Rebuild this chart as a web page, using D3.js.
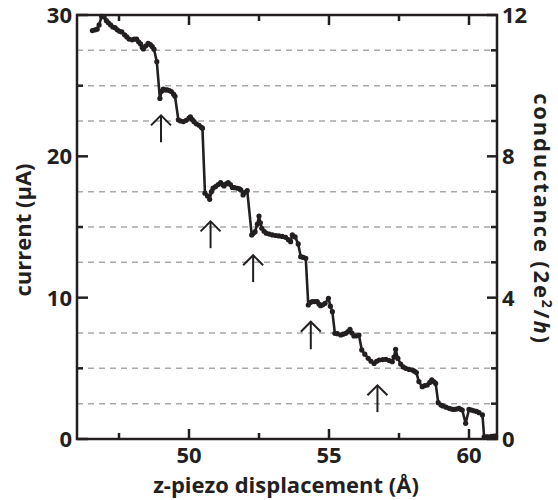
<!DOCTYPE html>
<html>
<head>
<meta charset="utf-8">
<script src="https://cdn.jsdelivr.net/npm/d3@7"></script>
<style>
  body { margin: 0; background: #fff; }
  text { font-family: "Open Sans", Lato, sans-serif; font-weight: bold; fill: #231f20; }
</style>
</head>
<body>
<svg width="558" height="500"></svg>
<script>
// displacement (Å) and current (μA)
const displacement = [
  46.55, 46.65, 46.72, 46.79, 46.88, 46.97, 47.05, 47.12, 47.2, 47.28, 47.36, 47.44, 47.52, 47.6, 47.7, 47.78,
  47.86, 47.97, 48.05, 48.13, 48.2, 48.27, 48.33, 48.37, 48.45, 48.54, 48.62, 48.69, 48.75, 48.85, 48.96, 49.02,
  49.08, 49.15, 49.22, 49.3, 49.37, 49.45, 49.5, 49.62, 49.7, 49.8, 49.9, 50.0, 50.05, 50.12, 50.18, 50.26,
  50.36, 50.44, 50.48, 50.57, 50.66, 50.74, 50.8, 50.86, 50.95, 51.04, 51.13, 51.2, 51.25, 51.33, 51.4, 51.48,
  51.55, 51.63, 51.73, 51.8, 51.85, 51.93, 52.0, 52.08, 52.24, 52.3, 52.36, 52.44, 52.5, 52.55, 52.6, 52.68,
  52.76, 52.87, 52.98, 53.1, 53.21, 53.33, 53.45, 53.55, 53.63, 53.69, 53.79, 53.9, 53.99, 54.08, 54.17, 54.26,
  54.33, 54.4, 54.49, 54.58, 54.64, 54.7, 54.78, 54.86, 54.98, 55.05, 55.12, 55.21, 55.3, 55.42, 55.5, 55.6,
  55.68, 55.75, 55.82, 55.89, 55.98, 56.07, 56.17, 56.28, 56.4, 56.5, 56.61, 56.7, 56.79, 56.92, 57.03, 57.15,
  57.26, 57.32, 57.38, 57.46, 57.56, 57.65, 57.74, 57.86, 57.98, 58.05, 58.12, 58.21, 58.33, 58.42, 58.51, 58.6,
  58.67, 58.75, 58.81, 58.9, 59.0, 59.07, 59.18, 59.29, 59.38, 59.46, 59.55, 59.64, 59.7, 59.76, 59.88, 60.0,
  60.09, 60.18, 60.27, 60.36, 60.48, 60.54, 60.62, 60.69, 60.8, 60.89, 60.95
];
const current = [
  28.9, 28.95, 29.0, 29.3, 29.9, 29.85, 29.6, 29.45, 29.3, 29.15, 29.1, 28.95, 28.85, 28.8, 28.6, 28.45,
  28.3, 28.24, 28.3, 28.29, 28.1, 27.95, 27.7, 27.6, 27.8, 28.0, 27.9, 27.76, 27.58, 26.7, 24.1, 24.6,
  24.75, 24.7, 24.7, 24.65, 24.58, 24.4, 24.25, 22.58, 22.5, 22.46, 22.55, 22.7, 22.8, 22.6, 22.45, 22.3,
  22.2, 22.05, 21.99, 17.39, 17.2, 16.96, 17.5, 17.75, 17.86, 18.0, 18.14, 18.0, 17.9, 18.05, 18.14, 18.0,
  17.8, 17.78, 17.74, 17.7, 17.62, 17.27, 17.45, 17.57, 14.44, 14.55, 14.67, 15.2, 15.78, 15.3, 14.91, 14.7,
  14.56, 14.5, 14.44, 14.4, 14.37, 14.33, 14.27, 14.1, 13.96, 14.44, 14.3, 13.8, 12.9, 12.85, 12.79, 9.48,
  9.65, 9.72, 9.72, 9.72, 9.55, 9.43, 9.5, 9.6, 9.95, 9.4, 9.01, 7.48, 7.45, 7.36, 7.42, 7.48,
  7.6, 7.76, 7.5, 7.29, 7.3, 7.36, 6.3, 6.0, 5.71, 5.5, 5.35, 5.5, 5.59, 5.62, 5.64, 5.55,
  5.47, 5.8, 6.35, 5.7, 5.3, 5.1, 5.0, 4.92, 4.88, 4.8, 4.7, 4.06, 3.7, 3.78, 3.82, 4.0,
  4.18, 4.05, 3.93, 2.57, 2.4, 2.34, 2.25, 2.17, 2.12, 2.09, 2.12, 2.17, 2.1, 2.05, 1.11, 2.09,
  2.05, 2.0, 1.95, 1.86, 1.7, 0.16, 0.15, 0.16, 0.18, 0.2, 0.2
];

// arrows: x position, tip and tail in current units
const arrowX = [49.0, 50.77, 52.29, 54.35, 56.73];
const arrowTip = [22.9, 15.4, 13.0, 8.3, 3.8];
const arrowTail = [21.0, 13.5, 11.1, 6.35, 1.9];

const xTicks = [50, 55, 60];
const xMinor = [47.5, 52.5, 57.5];
const yTicks = [0, 10, 20, 30];
const yMinor = [5, 15, 25];
const gTicks = [0, 4, 8, 12];
const gMinor = [1, 2, 3, 5, 6, 7, 9, 10, 11];

const svg = d3.select("svg");
const width = +svg.attr("width");
const height = +svg.attr("height");
const margin = { top: 15, right: 61, bottom: 61, left: 77 };
const ink = "#231f20";

const x = d3.scaleLinear().domain([46, 61]).range([margin.left, width - margin.right]);
const y = d3.scaleLinear().domain([0, 30]).range([height - margin.bottom, margin.top]);
const g = d3.scaleLinear().domain([0, 12]).range([height - margin.bottom, margin.top]);

// dashed conductance levels
svg.append("g")
  .selectAll("line")
  .data(gMinor)
  .join("line")
  .attr("x1", x(46)).attr("x2", x(61))
  .attr("y1", d => g(d)).attr("y2", d => g(d))
  .attr("stroke", "#a7a9ac")
  .attr("stroke-width", 1.5)
  .attr("stroke-dasharray", "6,5");

// ticks, drawn inward
function ticks(vals, len, orient) {
  const grp = svg.append("g").attr("stroke", ink).attr("stroke-width", 2.5);
  vals.forEach(v => {
    if (orient === "bottom") grp.append("line").attr("x1", x(v)).attr("x2", x(v)).attr("y1", y(0)).attr("y2", y(0) - len);
    if (orient === "top") grp.append("line").attr("x1", x(v)).attr("x2", x(v)).attr("y1", y(30)).attr("y2", y(30) + len);
    if (orient === "left") grp.append("line").attr("x1", x(46)).attr("x2", x(46) + len).attr("y1", y(v)).attr("y2", y(v));
    if (orient === "right") grp.append("line").attr("x1", x(61)).attr("x2", x(61) - len).attr("y1", g(v)).attr("y2", g(v));
  });
}
ticks(xTicks, 10, "bottom");
ticks(xMinor, 6, "bottom");
ticks(xTicks, 10, "top");
ticks(xMinor, 6, "top");
ticks(yTicks, 11, "left");
ticks(yMinor, 6, "left");
ticks(gTicks, 10, "right");
ticks(gMinor, 6, "right");

// frame
svg.append("rect")
  .attr("x", x(46)).attr("y", y(30))
  .attr("width", x(61) - x(46)).attr("height", y(0) - y(30))
  .attr("fill", "none")
  .attr("stroke", ink)
  .attr("stroke-width", 2.5);

// tick labels
svg.append("g").selectAll("text")
  .data(xTicks)
  .join("text")
  .attr("x", d => x(d)).attr("y", y(0) + 24)
  .attr("text-anchor", "middle")
  .attr("font-size", 22)
  .text(d => d);

svg.append("g").selectAll("text")
  .data(yTicks)
  .join("text")
  .attr("x", x(46) - 5).attr("y", d => y(d) + 8)
  .attr("text-anchor", "end")
  .attr("font-size", 22)
  .text(d => d);

svg.append("g").selectAll("text")
  .data(gTicks)
  .join("text")
  .attr("x", x(61) + 5).attr("y", d => g(d) + 8)
  .attr("text-anchor", "start")
  .attr("font-size", 22)
  .text(d => d);

// axis titles
svg.append("text")
  .attr("x", (x(46) + x(61)) / 2 - 1).attr("y", 493)
  .attr("text-anchor", "middle")
  .attr("font-size", 22)
  .text("z-piezo displacement (Å)");

svg.append("text")
  .attr("transform", `translate(31,${(y(0) + y(30)) / 2 + 3}) rotate(-90)`)
  .attr("text-anchor", "middle")
  .attr("font-size", 22)
  .text("current (μA)");

const right = svg.append("text")
  .attr("transform", "translate(534,219) rotate(90)")
  .attr("text-anchor", "middle")
  .attr("font-size", 22)
  .attr("letter-spacing", 1.8);
right.append("tspan").text("conductance (2e");
right.append("tspan").attr("font-size", 14).attr("dy", -8).text("2");
right.append("tspan").attr("dy", 8).text("/");
right.append("tspan").attr("font-style", "italic").text("h");
right.append("tspan").text(")");

// trace
const pts = displacement.map((d, i) => [d, current[i]]);
svg.append("path")
  .datum(pts)
  .attr("fill", "none")
  .attr("stroke", ink)
  .attr("stroke-width", 2.6)
  .attr("stroke-linejoin", "round")
  .attr("d", d3.line().x(d => x(d[0])).y(d => y(d[1])));

svg.append("g")
  .selectAll("circle")
  .data(pts)
  .join("circle")
  .attr("cx", d => x(d[0]))
  .attr("cy", d => y(d[1]))
  .attr("r", 2.6)
  .attr("fill", ink);

// arrows
const arrows = svg.append("g").attr("stroke", ink).attr("stroke-width", 2).attr("fill", "none");
arrowX.forEach((ax, i) => {
  const px = x(ax), tip = y(arrowTip[i]), tail = y(arrowTail[i]);
  arrows.append("line").attr("x1", px).attr("x2", px).attr("y1", tip).attr("y2", tail);
  arrows.append("path").attr("d", `M${px - 10},${tip + 10} L${px},${tip} L${px + 10},${tip + 10}`);
});
</script>
</body>
</html>
